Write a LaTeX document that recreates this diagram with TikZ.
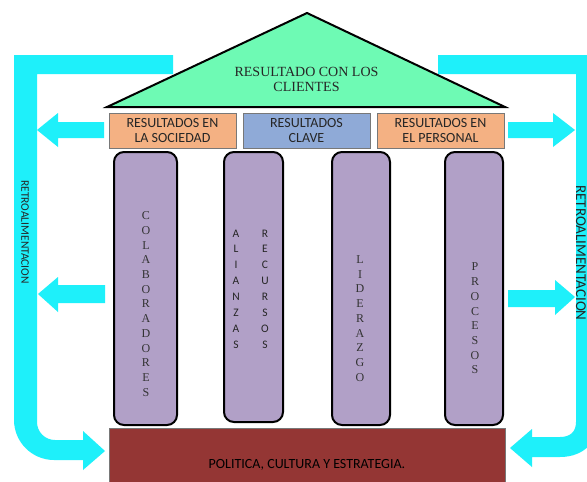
\documentclass[tikz,border=0pt]{standalone}
\usepackage{fontspec}
\setmainfont{Liberation Serif}
\newfontfamily\carl{Carlito}
\definecolor{cyanbar}{RGB}{30,240,250}
\definecolor{roofgreen}{RGB}{110,250,180}
\definecolor{boxorange}{RGB}{244,177,131}
\definecolor{boxblue}{RGB}{143,170,215}
\definecolor{pillarlav}{RGB}{177,160,199}
\definecolor{basered}{RGB}{148,54,52}
\definecolor{boxedge}{RGB}{120,120,120}
\tikzset{
  resbox/.style={draw=boxedge, line width=0.8pt, minimum width=127pt, minimum height=35pt, inner sep=0pt, align=center, font={\carl\fontsize{14}{15}\selectfont}, text=black!85},
  pillar/.style={draw=black, line width=2pt, fill=pillarlav, rounded corners=10pt, inner sep=0pt},
  serifcol/.style={align=center, inner sep=0pt, font={\fontsize{12}{14.7}\selectfont}, text=black!80},
  sanscol/.style={align=center, inner sep=0pt, font={\carl\fontsize{11.5}{15.9}\selectfont}, text=black!85},
  fbtext/.style={inner sep=0pt, rotate=-90, text=black!85},
  cyanshape/.style={fill=cyanbar}
}
\begin{document}
\begin{tikzpicture}[x=1pt,y=-1pt]
\clip (0,0) rectangle (587,482);
\fill[white] (0,0) rectangle (587,482);
% feedback frames
\fill[cyanshape] (14,55) -- (173,55) -- (173,74) -- (37,74) -- (37,422)
  .. controls (37,432) and (45,440) .. (55,440) -- (83,440) -- (83,431)
  -- (105,451) -- (83,470) -- (83,460) -- (54,460)
  .. controls (32,460) and (14,442) .. (14,420) -- cycle;
\fill[cyanshape] (438,55) -- (600,55) -- (600,415)
  .. controls (600,440) and (585,457) .. (560,457) -- (532,457) -- (532,467)
  -- (510,448) -- (532,429) -- (532,437) -- (560,437)
  .. controls (570,437) and (576,432) .. (576,422) -- (576,74) -- (438,74) -- cycle;
% side arrows
\fill[cyanshape] (104,122) -- (58,122) -- (58,113) -- (37,130) -- (58,147) -- (58,138) -- (104,138) -- cycle;
\fill[cyanshape] (105,285) -- (58,285) -- (58,277) -- (38,294) -- (58,312) -- (58,303) -- (105,303) -- cycle;
\fill[cyanshape] (508,122) -- (553,122) -- (553,113) -- (575,130) -- (553,147) -- (553,138) -- (508,138) -- cycle;
\fill[cyanshape] (508,290) -- (555,290) -- (555,280) -- (575,297) -- (555,315) -- (555,307) -- (508,307) -- cycle;
% feedback labels
\node[fbtext, font={\carl\fontsize{11.5}{12}\selectfont}] (fbl) at (25,232) {RETROALIMENTACION};
\node[fbtext, font={\carl\fontsize{15}{16}\selectfont}] (fbr) at (581,253) {RETROALIMENTACION};
% roof
\draw[line width=2pt, fill=roofgreen, line join=miter] (107,107) -- (307,13) -- (505,107) -- cycle;
\node[align=center, inner sep=0pt, font={\fontsize{14}{15.5}\selectfont}, text=black!85] (roof) at (306.5,79.5) {RESULTADO CON LOS\\CLIENTES};
% result boxes
\node[resbox, fill=boxorange] (soc) at (172.5,130.5) {RESULTADOS EN\\LA SOCIEDAD};
\node[resbox, fill=boxblue] (clave) at (306.5,130.5) {RESULTADOS\\CLAVE};
\node[resbox, fill=boxorange] (pers) at (440.5,130.5) {RESULTADOS EN\\EL PERSONAL};
% pillars
\node[pillar, minimum width=63pt, minimum height=273pt] (p1) at (145.5,288.5) {};
\node[pillar, minimum width=59pt, minimum height=270pt] (p2) at (253.5,287) {};
\node[pillar, minimum width=58pt, minimum height=273pt] (p3) at (361,288.5) {};
\node[pillar, minimum width=58pt, minimum height=273pt] (p4) at (474,288.5) {};
\node[serifcol] (t1) at (146,304) {C\\O\\L\\A\\B\\O\\R\\A\\D\\O\\R\\E\\S};
\node[sanscol] (t2a) at (236,289) {A\\L\\I\\A\\N\\Z\\A\\S};
\node[sanscol] (t2b) at (265,289) {R\\E\\C\\U\\R\\S\\O\\S};
\node[serifcol] (t3) at (360,318.5) {L\\I\\D\\E\\R\\A\\Z\\G\\O};
\node[serifcol] (t4) at (475,318.5) {P\\R\\O\\C\\E\\S\\O\\S};
% base
\node[draw=boxedge, line width=0.6pt, fill=basered, minimum width=396pt, minimum height=60pt, inner sep=0pt, anchor=north west] (base) at (109,428) {};
\node[inner sep=0pt, font={\carl\fontsize{14}{15}\selectfont}, text=black] (basetxt) at (307,465) {POLITICA, CULTURA Y ESTRATEGIA.};
\end{tikzpicture}
\end{document}
